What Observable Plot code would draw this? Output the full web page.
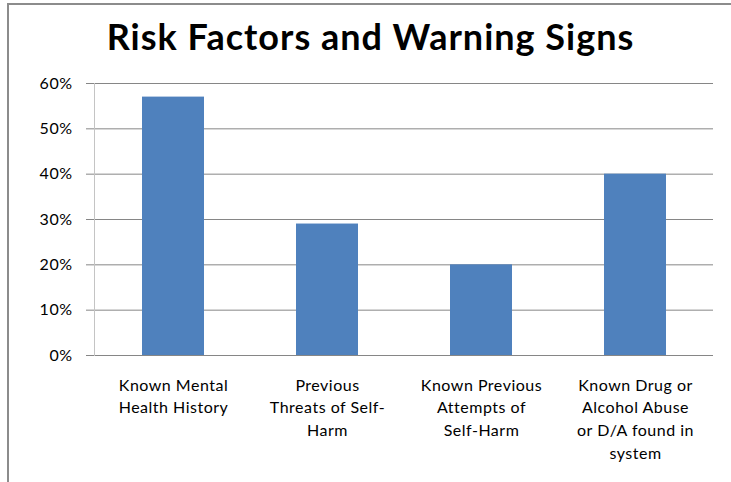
<!DOCTYPE html>
<html>
<head>
<meta charset="utf-8">
<script src="https://cdn.jsdelivr.net/npm/d3@7"></script>
<script src="https://cdn.jsdelivr.net/npm/@observablehq/plot@0.6"></script>
<style>
  html, body { margin: 0; padding: 0; background: #fff; overflow: hidden; }
  #wrap { position: relative; width: 731px; height: 482px; overflow: hidden; background: #fff; }
  #topline { position: absolute; left: 7px; top: 3px; width: 724px; height: 2px; background: #8c8c8c; }
  #leftline { position: absolute; left: 7px; top: 3px; width: 2px; height: 479px; background: #8c8c8c; }
  #title { position: absolute; left: 10px; width: 721px; top: 15px; text-align: center;
           font-family: Lato, "Open Sans", sans-serif; font-weight: bold; font-size: 36px;
           letter-spacing: 1px; color: #000; line-height: 1.2; white-space: nowrap; }
  #chart { position: absolute; left: 0; top: 60px; }
</style>
</head>
<body>
<div id="wrap">
  <div id="topline"></div>
  <div id="leftline"></div>
  <div id="chart"></div>
  <div id="title">Risk Factors and Warning Signs</div>
</div>
<script>
const categories = [
  "Known Mental\nHealth History",
  "Previous\nThreats of Self-\nHarm",
  "Known Previous\nAttempts of\nSelf-Harm",
  "Known Drug or\nAlcohol Abuse\nor D/A found in\nsystem"
];
const values = [0.57, 0.29, 0.20, 0.40];
const yTicks = [0, 0.1, 0.2, 0.3, 0.4, 0.5, 0.6];

const data = categories.map((c, i) => ({category: c, value: values[i]}));

const chart = Plot.plot({
  width: 731,
  height: 405,
  marginTop: 23,
  marginBottom: 110,
  marginLeft: 94,
  marginRight: 18,
  style: {fontFamily: "Lato, 'Open Sans', sans-serif", fontSize: "16px", color: "#000", background: "transparent", letterSpacing: "0.5px", display: "block"},
  x: {domain: categories, paddingInner: 0.6, paddingOuter: 0.3, label: null},
  y: {domain: [0, 0.6], label: null},
  marks: [
    Plot.gridY(yTicks, {stroke: "#868686", strokeOpacity: 1, strokeWidth: 1}),
    Plot.frame({anchor: "left", stroke: "#c4c4c4"}),
    Plot.barY(data, {x: "category", y: "value", fill: "#4f81bd"}),
    Plot.axisY(yTicks, {tickFormat: d3.format(".0%"), tickSize: 8, tickPadding: 14, stroke: "#868686", fontSize: 16, label: null}),
    Plot.axisX({tickSize: 0, tickPadding: 19, lineHeight: 1.42, fontSize: 16, label: null})
  ]
});
document.getElementById("chart").appendChild(chart);
</script>
</body>
</html>
